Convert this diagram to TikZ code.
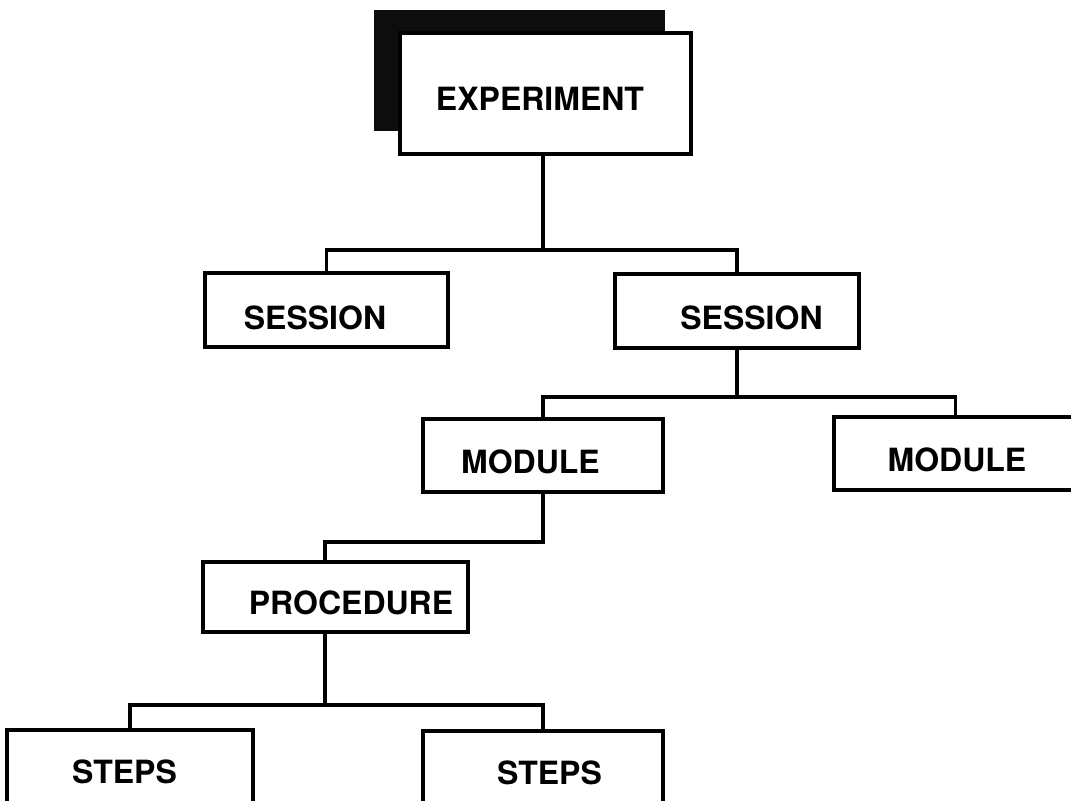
\documentclass[tikz,border=0pt]{standalone}
\usepackage{fontspec}
\setmainfont{TeX Gyre Heros}
\usetikzlibrary{calc,shadows}

\begin{document}
\begin{tikzpicture}[
x=0.5pt, y=-0.5pt,
box/.style={rectangle, draw=black, fill=white, line width=1.9pt, minimum width=121.5pt, minimum height=37pt},
topbox/.style={box, minimum width=145.5pt, minimum height=60.5pt, drop shadow={shadow xshift=-13pt, shadow yshift=11.5pt, fill=black!95, opacity=1}},
tag/.style={font=\fontsize{16}{19}\selectfont\bfseries, inner sep=0pt},
wire/.style={line width=1.8pt},
]
\clip (0,0) rectangle (1071,800);
\fill[white] (0,0) rectangle (1071,800);

% boxes, level by level
\node[topbox] (exp) at (545.5,93.5) {};
\node[box] (sessL) at (326.5,310) {};
\node[box, minimum width=122pt] (sessR) at (737,311) {};
\node[box, minimum width=120pt, minimum height=36.5pt] (modL) at (543,455.5) {};
\node[box, minimum height=36.5pt] (modR) at (955.5,453.5) {};
\node[box, minimum width=132.5pt, minimum height=35pt] (proc) at (335.5,597) {};
\node[box, minimum width=123pt] (stepsL) at (130,767) {};
\node[box, minimum width=120pt] (stepsR) at (543,768) {};

% names, set a little off centre
\node[tag] (exp-t) at ($(exp)+(-5.5,5.5)$) {EXPERIMENT};
\node[tag] (sessL-t) at ($(sessL)+(-11.5,8)$) {SESSION};
\node[tag] (sessR-t) at ($(sessR)+(14.5,7)$) {SESSION};
\node[tag] (modL-t) at ($(modL)+(-12.5,6.5)$) {MODULE};
\node[tag] (modR-t) at ($(modR)+(1.5,6.5)$) {MODULE};
\node[tag] (proc-t) at ($(proc)+(15.5,6)$) {PROCEDURE};
\node[tag] (stepsL-t) at ($(stepsL)+(-5.5,5)$) {STEPS};
\node[tag] (stepsR-t) at ($(stepsR)+(6.5,5)$) {STEPS};

% tree lines
\coordinate (b1) at (543,250);
\coordinate (pdrop) at (325,0);
\draw[wire] (b1 |- exp.south) -- (b1);
\draw[wire] (sessL.north) |- (b1) -| (sessR.north);
\draw[wire] (sessR.south) -- ++(0,47) coordinate (b2);
\draw[wire] (modL.north) |- (b2) -| (modR.north);
\draw[wire] (modL.south) -- ++(0,48) coordinate (b3) -| (pdrop |- proc.north);
\draw[wire] (pdrop |- proc.south) -- (pdrop |- 0,705) coordinate (b4);
\draw[wire] (stepsL.north) |- (b4) -| (stepsR.north);
\end{tikzpicture}
\end{document}
